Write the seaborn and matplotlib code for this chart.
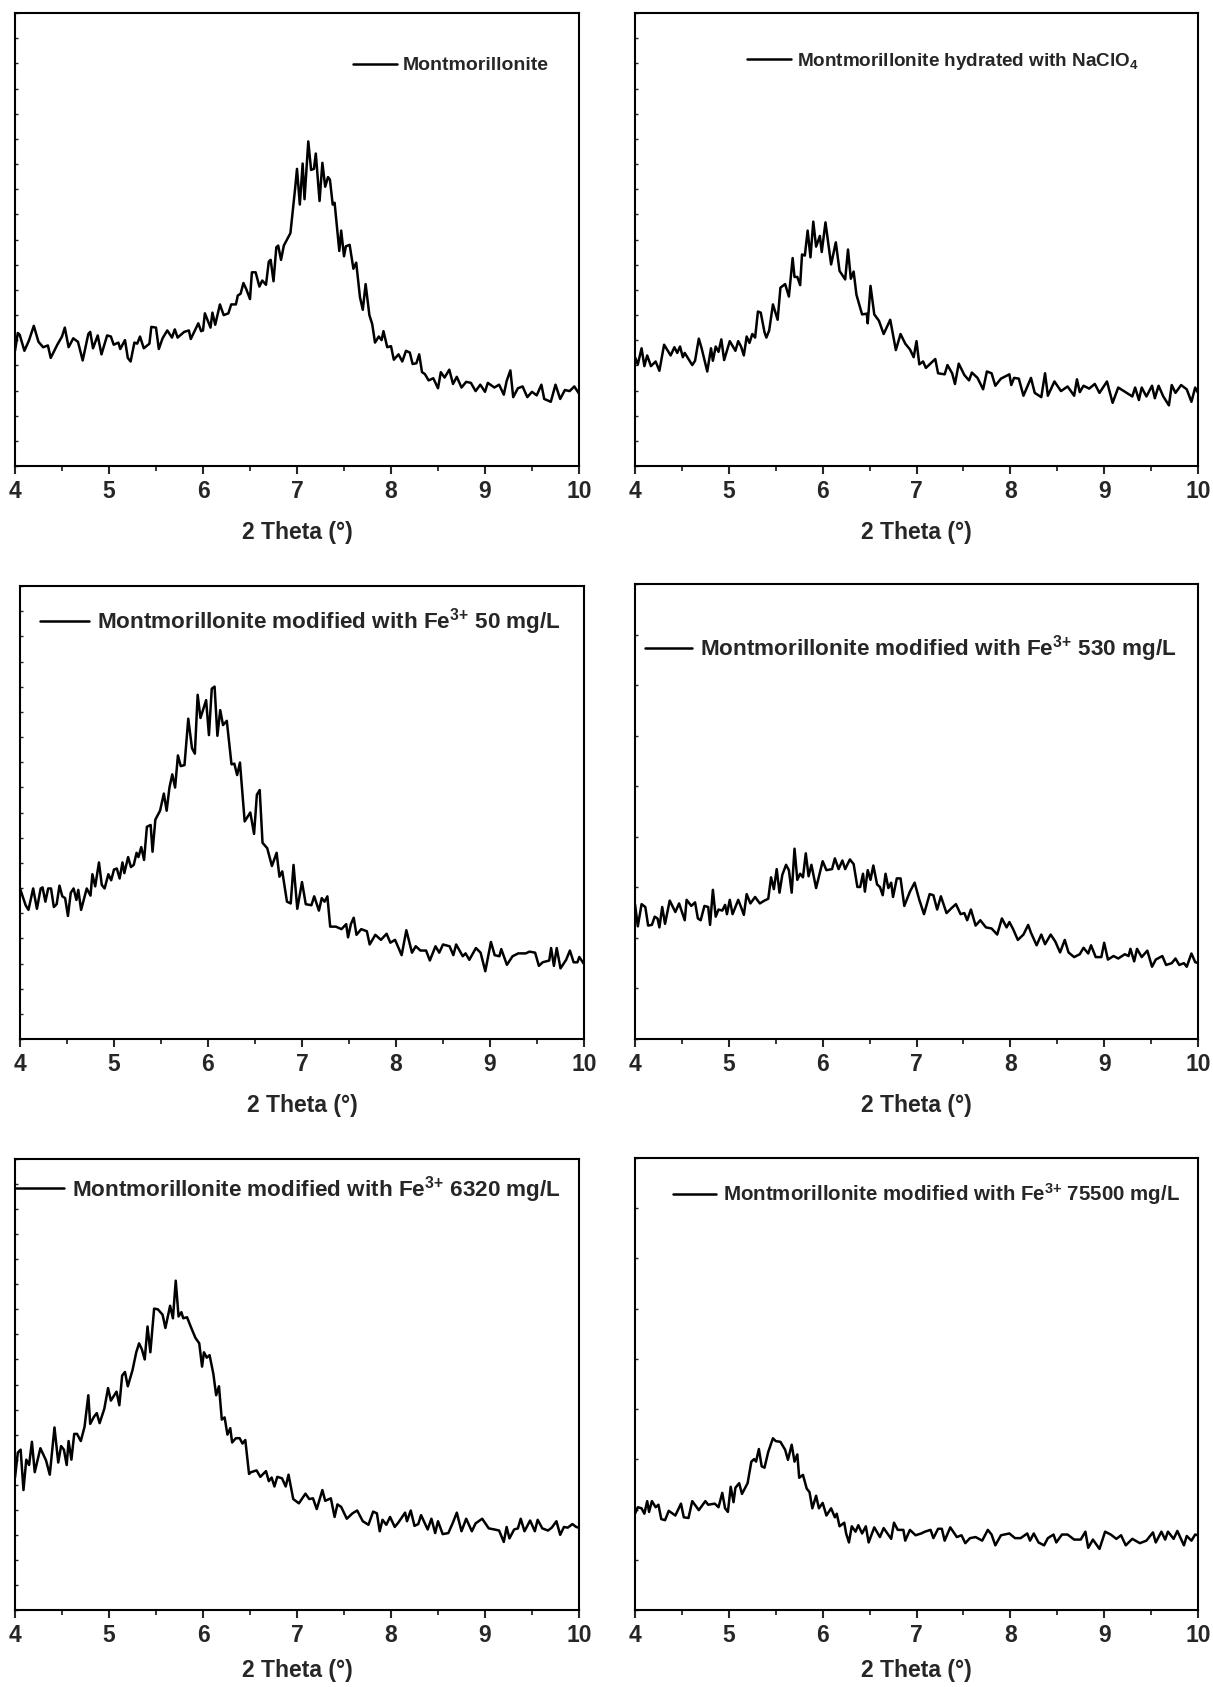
import matplotlib
matplotlib.use("Agg")
import matplotlib.pyplot as plt
from matplotlib.ticker import MultipleLocator
from matplotlib.font_manager import FontProperties
import pandas as pd
import seaborn as sns

# ---- data (2 Theta in degrees, intensity in arbitrary units) ----
x1 = [4.00, 4.03, 4.05, 4.10, 4.15, 4.20, 4.25, 4.30, 4.35, 4.38,
      4.45, 4.50, 4.53, 4.57, 4.62, 4.67, 4.72, 4.78, 4.80, 4.83,
      4.88, 4.92, 4.98, 5.02, 5.05, 5.10, 5.12, 5.17, 5.20, 5.23,
      5.27, 5.30, 5.33, 5.37, 5.43, 5.45, 5.50, 5.53, 5.57, 5.62,
      5.67, 5.70, 5.73, 5.80, 5.85, 5.87, 5.95, 5.98, 6.00, 6.02,
      6.08, 6.10, 6.13, 6.18, 6.22, 6.27, 6.30, 6.35, 6.37, 6.40,
      6.43, 6.46, 6.50, 6.52, 6.56, 6.60, 6.63, 6.67, 6.70, 6.72,
      6.75, 6.78, 6.80, 6.83, 6.86, 6.90, 6.93, 6.96, 6.98, 7.00,
      7.03, 7.06, 7.08, 7.12, 7.15, 7.18, 7.20, 7.24, 7.27, 7.30,
      7.33, 7.35, 7.38, 7.40, 7.45, 7.47, 7.50, 7.52, 7.56, 7.60,
      7.63, 7.67, 7.70, 7.73, 7.77, 7.80, 7.83, 7.87, 7.90, 7.92,
      7.96, 8.00, 8.03, 8.08, 8.12, 8.16, 8.20, 8.23, 8.27, 8.30,
      8.33, 8.36, 8.40, 8.45, 8.50, 8.53, 8.57, 8.62, 8.66, 8.70,
      8.75, 8.80, 8.85, 8.90, 8.95, 9.00, 9.03, 9.10, 9.15, 9.20,
      9.23, 9.27, 9.30, 9.35, 9.40, 9.45, 9.50, 9.55, 9.60, 9.63,
      9.70, 9.75, 9.80, 9.85, 9.90, 9.95, 10.00]
y1 = [323, 373, 368, 323, 353, 393, 348, 333, 338, 303,
      340, 363, 388, 333, 358, 348, 296, 370, 376, 330,
      366, 313, 366, 363, 340, 346, 328, 353, 303, 293,
      346, 343, 363, 330, 343, 390, 388, 328, 358, 380,
      360, 383, 360, 376, 380, 356, 400, 378, 380, 428,
      388, 430, 396, 453, 423, 428, 453, 453, 478, 483,
      513, 496, 468, 543, 543, 503, 520, 508, 573, 578,
      518, 613, 618, 578, 618, 638, 653, 728, 778, 833,
      733, 848, 748, 910, 830, 833, 876, 743, 850, 783,
      810, 803, 733, 738, 603, 660, 588, 616, 620, 553,
      570, 473, 438, 510, 423, 398, 346, 363, 353, 378,
      333, 336, 298, 313, 293, 323, 318, 286, 288, 313,
      263, 258, 240, 246, 218, 263, 248, 270, 230, 250,
      220, 236, 233, 210, 228, 208, 233, 220, 228, 200,
      238, 268, 193, 218, 223, 193, 208, 198, 228, 188,
      180, 228, 188, 213, 210, 223, 203]

x2 = [4.00, 4.03, 4.07, 4.10, 4.13, 4.17, 4.22, 4.26, 4.31, 4.38,
      4.42, 4.45, 4.48, 4.51, 4.53, 4.61, 4.64, 4.68, 4.71, 4.77,
      4.81, 4.83, 4.86, 4.89, 4.92, 4.95, 5.01, 5.07, 5.10, 5.13,
      5.16, 5.19, 5.22, 5.25, 5.28, 5.31, 5.34, 5.38, 5.40, 5.43,
      5.47, 5.52, 5.55, 5.60, 5.64, 5.68, 5.70, 5.73, 5.76, 5.78,
      5.81, 5.84, 5.87, 5.90, 5.93, 5.97, 5.99, 6.03, 6.09, 6.14,
      6.18, 6.24, 6.27, 6.30, 6.33, 6.36, 6.42, 6.47, 6.48, 6.51,
      6.55, 6.60, 6.65, 6.72, 6.78, 6.83, 6.88, 6.93, 6.97, 7.00,
      7.03, 7.07, 7.10, 7.20, 7.23, 7.30, 7.33, 7.38, 7.41, 7.45,
      7.51, 7.56, 7.59, 7.65, 7.71, 7.75, 7.80, 7.84, 7.90, 7.99,
      8.01, 8.04, 8.09, 8.14, 8.22, 8.26, 8.33, 8.37, 8.40, 8.47,
      8.54, 8.61, 8.68, 8.71, 8.74, 8.78, 8.84, 8.90, 8.95, 9.03,
      9.09, 9.15, 9.24, 9.30, 9.33, 9.37, 9.40, 9.45, 9.51, 9.54,
      9.58, 9.63, 9.69, 9.72, 9.76, 9.82, 9.88, 9.93, 9.97, 10.00]
y2 = [305, 285, 330, 280, 310, 280, 293, 267, 340, 310,
      333, 317, 335, 305, 317, 283, 295, 357, 330, 265,
      330, 295, 335, 320, 355, 297, 350, 323, 350, 335,
      310, 363, 345, 370, 360, 433, 430, 375, 360, 380,
      453, 410, 500, 510, 475, 583, 530, 530, 507, 593,
      590, 660, 585, 685, 615, 645, 600, 683, 565, 627,
      547, 523, 607, 525, 545, 480, 425, 427, 400, 505,
      425, 407, 370, 410, 325, 370, 343, 327, 305, 350,
      285, 293, 275, 300, 260, 257, 283, 260, 230, 287,
      255, 240, 262, 247, 215, 265, 260, 225, 245, 257,
      227, 247, 245, 197, 247, 205, 193, 260, 197, 237,
      210, 223, 197, 243, 207, 225, 217, 230, 205, 237,
      177, 220, 205, 195, 220, 185, 220, 195, 225, 190,
      225, 195, 170, 227, 205, 227, 215, 180, 220, 205]

x3 = [4.00, 4.06, 4.09, 4.14, 4.18, 4.22, 4.24, 4.27, 4.30, 4.33,
      4.36, 4.39, 4.42, 4.45, 4.48, 4.51, 4.54, 4.57, 4.60, 4.62,
      4.65, 4.71, 4.75, 4.77, 4.80, 4.84, 4.87, 4.90, 4.94, 4.97,
      5.00, 5.03, 5.06, 5.09, 5.11, 5.15, 5.18, 5.21, 5.24, 5.26,
      5.29, 5.32, 5.35, 5.39, 5.41, 5.44, 5.49, 5.53, 5.56, 5.59,
      5.62, 5.65, 5.68, 5.71, 5.75, 5.79, 5.83, 5.86, 5.89, 5.92,
      5.98, 6.01, 6.04, 6.07, 6.10, 6.13, 6.16, 6.20, 6.25, 6.28,
      6.31, 6.34, 6.39, 6.45, 6.49, 6.52, 6.55, 6.58, 6.63, 6.68,
      6.73, 6.76, 6.79, 6.84, 6.88, 6.91, 6.95, 7.00, 7.04, 7.10,
      7.13, 7.18, 7.21, 7.24, 7.27, 7.30, 7.36, 7.42, 7.47, 7.49,
      7.52, 7.55, 7.58, 7.63, 7.69, 7.72, 7.78, 7.84, 7.90, 7.94,
      7.99, 8.06, 8.11, 8.17, 8.21, 8.26, 8.32, 8.36, 8.42, 8.46,
      8.50, 8.57, 8.61, 8.64, 8.71, 8.74, 8.78, 8.85, 8.90, 8.95,
      9.01, 9.05, 9.10, 9.12, 9.18, 9.24, 9.30, 9.38, 9.42, 9.48,
      9.52, 9.56, 9.63, 9.65, 9.68, 9.71, 9.75, 9.81, 9.85, 9.89,
      9.93, 9.95, 10.00]
y3 = [422, 375, 362, 422, 365, 422, 425, 385, 422, 422,
      370, 378, 430, 400, 395, 345, 410, 422, 390, 418,
      362, 422, 402, 462, 428, 495, 432, 422, 462, 445,
      475, 478, 450, 495, 465, 510, 482, 488, 522, 510,
      538, 502, 595, 600, 525, 615, 640, 688, 640, 705,
      742, 705, 795, 765, 768, 898, 815, 800, 965, 900,
      950, 852, 982, 988, 850, 922, 880, 892, 770, 772,
      740, 775, 610, 635, 575, 685, 698, 550, 535, 485,
      522, 455, 470, 385, 380, 488, 365, 440, 378, 375,
      400, 360, 395, 385, 400, 315, 315, 308, 322, 285,
      322, 340, 292, 308, 302, 265, 292, 278, 295, 270,
      278, 235, 305, 242, 260, 248, 248, 220, 260, 242,
      265, 260, 235, 265, 232, 240, 222, 255, 242, 190,
      272, 235, 232, 252, 208, 232, 240, 240, 245, 242,
      205, 215, 220, 255, 205, 255, 198, 222, 248, 215,
      215, 230, 210]

x4 = [4.00, 4.03, 4.07, 4.11, 4.14, 4.18, 4.21, 4.24, 4.26, 4.29,
      4.32, 4.37, 4.43, 4.47, 4.53, 4.55, 4.60, 4.64, 4.67, 4.70,
      4.74, 4.78, 4.80, 4.83, 4.86, 4.89, 4.93, 4.96, 4.98, 5.01,
      5.04, 5.10, 5.13, 5.16, 5.19, 5.23, 5.28, 5.33, 5.38, 5.42,
      5.45, 5.48, 5.51, 5.54, 5.57, 5.61, 5.64, 5.67, 5.70, 5.73,
      5.76, 5.79, 5.82, 5.85, 5.88, 5.93, 6.00, 6.04, 6.10, 6.13,
      6.17, 6.21, 6.24, 6.29, 6.33, 6.37, 6.40, 6.43, 6.45, 6.48,
      6.51, 6.54, 6.58, 6.61, 6.64, 6.67, 6.70, 6.73, 6.75, 6.79,
      6.83, 6.87, 6.93, 6.98, 7.03, 7.08, 7.14, 7.18, 7.22, 7.26,
      7.32, 7.37, 7.42, 7.47, 7.51, 7.54, 7.58, 7.63, 7.68, 7.74,
      7.80, 7.86, 7.91, 7.96, 7.99, 8.03, 8.08, 8.14, 8.19, 8.22,
      8.28, 8.33, 8.37, 8.43, 8.48, 8.53, 8.58, 8.62, 8.68, 8.74,
      8.78, 8.83, 8.86, 8.91, 8.97, 9.00, 9.04, 9.10, 9.15, 9.22,
      9.26, 9.28, 9.32, 9.35, 9.40, 9.46, 9.51, 9.55, 9.62, 9.66,
      9.72, 9.76, 9.80, 9.85, 9.88, 9.93, 9.97, 10.00]
y4 = [377, 315, 377, 369, 317, 319, 342, 337, 312, 369,
      322, 387, 355, 379, 332, 389, 372, 382, 337, 332,
      372, 369, 319, 417, 342, 362, 359, 375, 349, 389,
      349, 389, 369, 347, 405, 379, 397, 379, 387, 392,
      452, 419, 475, 409, 459, 487, 472, 409, 532, 445,
      462, 452, 519, 455, 487, 422, 497, 472, 475, 505,
      475, 499, 475, 502, 489, 425, 425, 462, 412, 472,
      445, 485, 432, 425, 402, 462, 422, 437, 397, 449,
      449, 372, 412, 437, 389, 349, 405, 402, 362, 399,
      352, 365, 377, 349, 352, 332, 362, 317, 332, 312,
      309, 292, 337, 312, 327, 307, 277, 292, 319, 297,
      262, 292, 265, 292, 272, 242, 277, 242, 229, 237,
      255, 239, 262, 229, 229, 269, 222, 232, 225, 237,
      232, 252, 217, 252, 229, 247, 202, 222, 232, 207,
      212, 225, 207, 212, 202, 239, 215, 212]

x5 = [4.00, 4.03, 4.06, 4.09, 4.12, 4.15, 4.18, 4.21, 4.27, 4.33,
      4.37, 4.42, 4.46, 4.49, 4.52, 4.55, 4.57, 4.60, 4.63, 4.66,
      4.70, 4.74, 4.78, 4.80, 4.84, 4.87, 4.90, 4.95, 4.99, 5.02,
      5.08, 5.11, 5.14, 5.17, 5.20, 5.25, 5.29, 5.32, 5.35, 5.38,
      5.41, 5.44, 5.48, 5.52, 5.57, 5.60, 5.65, 5.68, 5.71, 5.74,
      5.77, 5.79, 5.83, 5.88, 5.92, 5.96, 5.99, 6.01, 6.04, 6.07,
      6.11, 6.14, 6.17, 6.20, 6.23, 6.26, 6.29, 6.31, 6.35, 6.39,
      6.42, 6.45, 6.49, 6.51, 6.57, 6.61, 6.67, 6.70, 6.73, 6.76,
      6.79, 6.84, 6.88, 6.91, 6.96, 7.02, 7.09, 7.13, 7.17, 7.21,
      7.27, 7.30, 7.36, 7.40, 7.43, 7.47, 7.53, 7.59, 7.64, 7.70,
      7.76, 7.81, 7.85, 7.88, 7.91, 7.95, 7.99, 8.04, 8.08, 8.15,
      8.17, 8.21, 8.25, 8.29, 8.32, 8.36, 8.39, 8.43, 8.47, 8.50,
      8.55, 8.61, 8.66, 8.70, 8.75, 8.80, 8.86, 8.90, 8.97, 9.04,
      9.10, 9.15, 9.20, 9.23, 9.26, 9.31, 9.35, 9.38, 9.42, 9.48,
      9.53, 9.56, 9.61, 9.67, 9.71, 9.76, 9.80, 9.84, 9.88, 9.93,
      9.97, 10.00]
y5 = [370, 440, 448, 335, 420, 405, 470, 385, 452, 418,
      378, 510, 412, 458, 448, 405, 472, 420, 492, 492,
      472, 512, 600, 520, 540, 550, 522, 562, 620, 585,
      610, 572, 655, 665, 625, 670, 720, 745, 728, 700,
      792, 720, 842, 840, 825, 788, 850, 815, 920, 820,
      832, 815, 818, 785, 760, 745, 680, 720, 705, 712,
      660, 600, 625, 532, 538, 490, 508, 468, 480, 480,
      465, 475, 380, 385, 390, 372, 388, 360, 370, 345,
      372, 368, 345, 378, 310, 298, 325, 310, 312, 282,
      335, 305, 312, 260, 295, 288, 255, 270, 278, 248,
      238, 275, 270, 220, 252, 238, 260, 232, 245, 272,
      248, 278, 235, 240, 265, 242, 225, 255, 215, 248,
      212, 215, 245, 272, 220, 255, 220, 242, 255, 228,
      225, 222, 190, 232, 200, 225, 228, 255, 220, 250,
      220, 252, 228, 222, 230, 248, 210, 232, 230, 240,
      232, 230]

x6 = [4.00, 4.03, 4.07, 4.10, 4.13, 4.15, 4.18, 4.22, 4.25, 4.28,
      4.32, 4.36, 4.43, 4.49, 4.52, 4.57, 4.61, 4.68, 4.75, 4.78,
      4.85, 4.89, 4.93, 4.96, 4.99, 5.02, 5.05, 5.07, 5.11, 5.14,
      5.20, 5.24, 5.27, 5.29, 5.32, 5.35, 5.38, 5.42, 5.47, 5.50,
      5.55, 5.60, 5.63, 5.67, 5.70, 5.73, 5.75, 5.79, 5.83, 5.86,
      5.89, 5.93, 5.96, 6.00, 6.04, 6.09, 6.13, 6.15, 6.18, 6.23,
      6.25, 6.28, 6.31, 6.35, 6.38, 6.42, 6.46, 6.49, 6.55, 6.61,
      6.65, 6.73, 6.76, 6.80, 6.86, 6.88, 6.93, 6.99, 7.05, 7.09,
      7.15, 7.18, 7.23, 7.27, 7.30, 7.36, 7.43, 7.48, 7.52, 7.57,
      7.63, 7.70, 7.76, 7.80, 7.84, 7.90, 7.99, 8.05, 8.11, 8.18,
      8.21, 8.25, 8.30, 8.36, 8.40, 8.46, 8.49, 8.55, 8.61, 8.68,
      8.75, 8.80, 8.83, 8.88, 8.95, 9.01, 9.07, 9.13, 9.18, 9.23,
      9.30, 9.38, 9.45, 9.52, 9.55, 9.61, 9.65, 9.68, 9.74, 9.78,
      9.85, 9.88, 9.93, 9.97, 10.00]
y6 = [268, 286, 283, 268, 303, 273, 303, 286, 293, 253,
      250, 276, 263, 296, 258, 256, 303, 278, 303, 293,
      296, 286, 326, 283, 273, 343, 300, 340, 353, 323,
      353, 413, 420, 413, 448, 400, 396, 440, 478, 470,
      468, 446, 418, 460, 413, 433, 368, 376, 338, 328,
      283, 318, 283, 298, 263, 283, 258, 268, 233, 243,
      213, 188, 233, 218, 236, 213, 233, 188, 230, 203,
      228, 198, 243, 223, 223, 193, 223, 208, 213, 218,
      223, 200, 226, 226, 193, 230, 203, 208, 186, 200,
      203, 193, 223, 210, 180, 208, 213, 200, 200, 213,
      193, 213, 188, 180, 200, 210, 188, 210, 210, 196,
      196, 218, 173, 196, 170, 218, 210, 198, 208, 180,
      198, 186, 193, 216, 188, 218, 196, 218, 198, 220,
      180, 206, 193, 210, 208]

labels = [
    "Montmorillonite",
    "Montmorillonite hydrated with NaClO$_4$",
    "Montmorillonite modified with Fe$^{3{+}}$ 50 mg/L",
    "Montmorillonite modified with Fe$^{3{+}}$ 530 mg/L",
    "Montmorillonite modified with Fe$^{3{+}}$ 6320 mg/L",
    "Montmorillonite modified with Fe$^{3{+}}$ 75500 mg/L",
]
xs = [x1, x2, x3, x4, x5, x6]
ys = [y1, y2, y3, y4, y5, y6]

# ---- layout (pixel boxes: left, top, right, bottom) ----
W, H = 1213, 1687
boxes = [(15, 13, 579, 466), (635, 13, 1198, 466),
         (20, 586, 584, 1039), (635, 584, 1198, 1039),
         (15, 1159, 579, 1610), (635, 1158, 1198, 1610)]
ytop = [1270, 1270, 1270, 1272, 1260, 1258]
ydiv = [18, 18, 18, 9, 18, 9]
leg_pos = [(0.599, 0.884), (0.199, 0.894), (0.036, 0.921),
           (0.018, 0.858), (0.001, 0.933), (0.067, 0.920)]
leg_size = [14, 13.6, 16.2, 16.2, 16.2, 14.8]
leg_hlen = [2.25, 2.35, 2.15, 2.1, 2.15, 2.1]
leg_pad = [0.3, 0.28, 0.35, 0.35, 0.35, 0.33]
xlab_pad = [13, 13, 13, 13, 9, 9]

sns.set_style("ticks")
plt.rcParams["font.family"] = ["Liberation Sans", "DejaVu Sans"]
plt.rcParams["font.weight"] = "bold"
plt.rcParams["axes.labelweight"] = "bold"
plt.rcParams["mathtext.fontset"] = "custom"
plt.rcParams["mathtext.rm"] = "Liberation Sans:bold"
plt.rcParams["mathtext.it"] = "Liberation Sans:bold"
plt.rcParams["mathtext.bf"] = "Liberation Sans:bold"
plt.rcParams["mathtext.default"] = "rm"

fig = plt.figure(figsize=(W / 100, H / 100), dpi=100)

for i in range(6):
    l, t, r, b = boxes[i]
    ax = fig.add_axes([l / W, 1 - b / H, (r - l) / W, (b - t) / H])
    df = pd.DataFrame({"theta": xs[i], "intensity": ys[i]})
    sns.lineplot(data=df, x="theta", y="intensity", ax=ax, color="black",
                 linewidth=1.8, estimator=None, label=labels[i])

    ax.set_xlim(4, 10)
    ax.set_ylim(0, ytop[i])
    ax.set_xticks(range(4, 11))
    ax.xaxis.set_minor_locator(MultipleLocator(0.5))
    step = ytop[i] / ydiv[i]
    ax.set_yticks([k * step for k in range(ydiv[i] + 1)])
    ax.set_yticklabels([])
    ax.set_ylabel("")
    ax.set_xlabel("2 Theta (°)", fontsize=16.5, fontweight="bold",
                  labelpad=xlab_pad[i])

    ax.tick_params(axis="x", which="major", direction="out", length=6,
                   width=1.5, labelsize=16.5, pad=4)
    ax.tick_params(axis="x", which="minor", direction="out", length=3.5,
                   width=1.3)
    ax.tick_params(axis="y", which="major", direction="in", length=2.5,
                   width=1.0, left=True, right=False, labelleft=False)
    for lab in ax.get_xticklabels():
        lab.set_fontweight("bold")
    for sp in ax.spines.values():
        sp.set_linewidth(1.5)
        sp.set_color("black")

    ax.legend(loc="center left", bbox_to_anchor=leg_pos[i], frameon=False,
              borderpad=0, borderaxespad=0, handlelength=leg_hlen[i],
              handletextpad=leg_pad[i],
              prop=FontProperties(family="Liberation Sans", weight="bold",
                                  size=leg_size[i]))

fig.savefig("out.png", dpi=100)
